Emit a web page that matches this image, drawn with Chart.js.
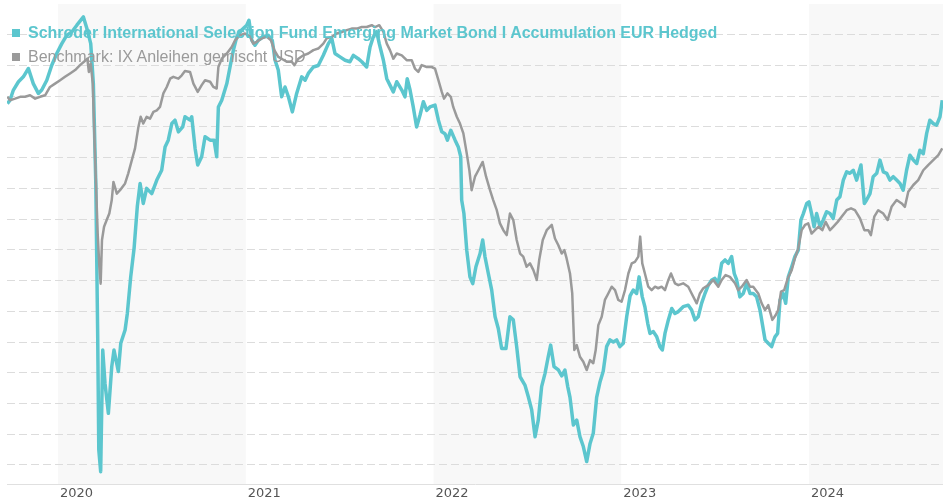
<!DOCTYPE html>
<html>
<head>
<meta charset="utf-8">
<script src="https://cdn.jsdelivr.net/npm/chart.js@4.4.1/dist/chart.umd.min.js"></script>
<style>
  html, body { margin: 0; padding: 0; background: #fff; }
  #wrap { position: relative; width: 943px; height: 503px; }
  #chart { position: absolute; left: 0; top: 0; }
  .box { position: absolute; width: 8px; height: 8px; }
  .txt { position: absolute; left: 28px; white-space: nowrap; font-family: "Liberation Sans", Arial, sans-serif; font-size: 16px; line-height: 18px; }
</style>
</head>
<body>
<div id="wrap">
  <canvas id="chart" width="943" height="503"></canvas>
  <div class="box" style="left:12px; top:29px; background:#5cc6ce;"></div>
  <div class="txt" id="fund-label" style="top:24px; color:#5cc6ce; font-weight:bold;"></div>
  <div class="box" style="left:12px; top:53px; background:#9a9a9a;"></div>
  <div class="txt" id="bench-label" style="top:48px; color:#9a9a9a;"></div>
</div>
<script>
// Series names
const fundName = 'Schroder International Selection Fund Emerging Market Bond I Accumulation EUR Hedged';
const benchName = 'Benchmark: IX Anleihen gemischt USD';

// Axis tick labels (year starts) and the years drawn with a grey band
const yearTicks = [2020, 2021, 2022, 2023, 2024];
const shadedYears = [2020, 2022, 2024];

// Fund: dates as decimal years
const fundYears = [
  2019.730, 2019.744, 2019.762, 2019.789, 2019.815, 2019.842, 2019.868, 2019.895, 2019.913, 2019.940,
  2019.966, 2019.993, 2020.020, 2020.046, 2020.073, 2020.100, 2020.135, 2020.156, 2020.174, 2020.188,
  2020.201, 2020.211, 2020.217, 2020.227, 2020.238, 2020.250, 2020.268, 2020.286, 2020.298, 2020.321,
  2020.334, 2020.357, 2020.369, 2020.387, 2020.405, 2020.422, 2020.437, 2020.454, 2020.472, 2020.499,
  2020.526, 2020.552, 2020.570, 2020.587, 2020.606, 2020.623, 2020.641, 2020.664, 2020.676, 2020.703,
  2020.712, 2020.730, 2020.744, 2020.765, 2020.783, 2020.810, 2020.831, 2020.845, 2020.854, 2020.872,
  2020.899, 2020.916, 2020.934, 2020.952, 2020.978, 2021.005, 2021.017, 2021.032, 2021.049, 2021.067,
  2021.093, 2021.120, 2021.141, 2021.156, 2021.173, 2021.191, 2021.209, 2021.227, 2021.248, 2021.271,
  2021.298, 2021.316, 2021.333, 2021.360, 2021.386, 2021.413, 2021.440, 2021.458, 2021.475, 2021.502,
  2021.529, 2021.555, 2021.573, 2021.599, 2021.618, 2021.644, 2021.662, 2021.679, 2021.697, 2021.711,
  2021.733, 2021.751, 2021.768, 2021.786, 2021.804, 2021.831, 2021.848, 2021.860, 2021.875, 2021.892,
  2021.910, 2021.928, 2021.946, 2021.964, 2021.981, 2022.008, 2022.026, 2022.044, 2022.061, 2022.074,
  2022.092, 2022.115, 2022.132, 2022.145, 2022.150, 2022.162, 2022.177, 2022.194, 2022.209, 2022.226,
  2022.248, 2022.262, 2022.274, 2022.292, 2022.310, 2022.328, 2022.345, 2022.363, 2022.386, 2022.407,
  2022.425, 2022.443, 2022.461, 2022.487, 2022.505, 2022.523, 2022.541, 2022.558, 2022.576, 2022.594,
  2022.611, 2022.624, 2022.642, 2022.665, 2022.683, 2022.700, 2022.715, 2022.727, 2022.745, 2022.763,
  2022.780, 2022.798, 2022.816, 2022.834, 2022.851, 2022.869, 2022.887, 2022.904, 2022.922, 2022.940,
  2022.958, 2022.976, 2022.993, 2023.011, 2023.029, 2023.047, 2023.064, 2023.082, 2023.095, 2023.112,
  2023.126, 2023.141, 2023.153, 2023.171, 2023.189, 2023.206, 2023.219, 2023.233, 2023.251, 2023.269,
  2023.286, 2023.304, 2023.330, 2023.357, 2023.375, 2023.393, 2023.410, 2023.428, 2023.446, 2023.464,
  2023.482, 2023.499, 2023.517, 2023.535, 2023.553, 2023.570, 2023.588, 2023.602, 2023.615, 2023.632,
  2023.650, 2023.668, 2023.686, 2023.703, 2023.721, 2023.739, 2023.748, 2023.766, 2023.783, 2023.801,
  2023.819, 2023.833, 2023.846, 2023.863, 2023.876, 2023.890, 2023.908, 2023.925, 2023.943, 2023.957,
  2023.970, 2023.988, 2024.000, 2024.014, 2024.027, 2024.041, 2024.059, 2024.076, 2024.094, 2024.112,
  2024.129, 2024.148, 2024.165, 2024.183, 2024.201, 2024.218, 2024.236, 2024.254, 2024.277, 2024.295,
  2024.307, 2024.325, 2024.342, 2024.361, 2024.378, 2024.396, 2024.414, 2024.431, 2024.449, 2024.467,
  2024.485, 2024.502, 2024.520, 2024.538, 2024.556, 2024.574, 2024.591, 2024.609, 2024.627, 2024.644,
  2024.662, 2024.680, 2024.698, 2024.710
];
const fundValues = [
  11.76, 11.87, 12.2, 12.47, 12.63, 12.9, 12.41, 12.09, 12.2, 12.52,
  13.0, 13.39, 13.71, 13.98, 14.09, 14.31, 14.58, 14.15, 13.71, 12.41,
  9.16, 4.28, 0.49, -0.22, 3.74, 2.66, 1.68, 3.2, 3.74, 3.04,
  3.96, 4.39, 4.93, 6.12, 7.05, 8.4, 9.16, 8.51, 9.0, 8.83,
  9.27, 9.59, 10.35, 10.57, 11.11, 11.22, 10.84, 11.0, 11.33, 11.22,
  11.33, 10.3, 9.76, 10.03, 10.68, 10.57, 10.57, 10.03, 11.65, 11.87,
  12.41, 12.95, 13.5, 13.93, 14.15, 14.31, 14.47, 13.82, 13.66, 13.82,
  13.93, 13.98, 13.82, 13.17, 12.85, 11.98, 12.3, 11.98, 11.49, 12.09,
  12.63, 12.52, 12.74, 12.95, 13.0, 13.33, 13.71, 13.88, 13.39, 13.28,
  13.17, 13.12, 13.33, 13.22, 13.12, 12.95, 13.6, 13.93, 14.1, 13.71,
  13.17, 12.57, 12.36, 12.14, 12.47, 12.2, 11.98, 12.57, 12.2, 11.65,
  11.0, 11.38, 11.82, 11.54, 11.65, 11.71, 11.22, 10.84, 10.78, 10.57,
  10.89, 10.57, 10.35, 10.03, 8.62, 8.18, 6.99, 6.12, 5.9, 6.45,
  6.88, 7.32, 6.78, 6.23, 5.69, 4.82, 4.44, 3.79, 3.79, 4.82,
  4.72, 3.85, 2.87, 2.6, 2.22, 1.79, 0.92, 1.46, 2.55, 2.98,
  3.52, 3.9, 3.2, 3.09, 2.9, 3.09, 2.55, 2.2, 1.3, 1.46,
  0.92, 0.6, 0.11, 0.7, 1.03, 2.2, 2.7, 3.05, 3.85, 4.07,
  4.0, 4.07, 3.85, 3.96, 4.82, 5.5, 5.69, 5.58, 6.12, 5.47,
  5.15, 4.61, 4.28, 4.34, 4.17, 3.85, 3.74, 4.28, 4.72, 5.09,
  4.93, 4.99, 5.15, 5.2, 5.04, 4.72, 4.82, 5.26, 5.58, 5.85,
  6.02, 6.07, 5.91, 6.56, 6.67, 6.56, 6.78, 6.23, 6.02, 5.47,
  5.58, 5.91, 5.58, 5.58, 5.47, 5.04, 4.72, 4.07, 3.96, 3.85,
  4.17, 4.28, 5.37, 5.58, 5.26, 6.12, 6.45, 6.78, 6.99, 7.97,
  8.18, 8.51, 8.56, 8.18, 7.75, 8.18, 7.75, 7.97, 8.24, 8.18,
  8.02, 8.62, 8.73, 9.27, 9.54, 9.49, 9.59, 9.27, 9.76, 8.51,
  8.62, 8.83, 9.38, 9.49, 9.92, 9.54, 9.49, 9.27, 9.38, 9.27,
  9.16, 8.94, 9.59, 10.08, 9.92, 9.81, 10.24, 10.13, 10.79, 11.22,
  11.11, 11.06, 11.33, 11.87
];

// Benchmark: dates as decimal years
const benchYears = [
  2019.730, 2019.744, 2019.771, 2019.798, 2019.824, 2019.851, 2019.878, 2019.904, 2019.931, 2019.957,
  2019.984, 2020.011, 2020.037, 2020.064, 2020.091, 2020.117, 2020.138, 2020.156, 2020.164, 2020.174,
  2020.185, 2020.193, 2020.202, 2020.211, 2020.220, 2020.227, 2020.234, 2020.245, 2020.259, 2020.273,
  2020.286, 2020.295, 2020.313, 2020.330, 2020.357, 2020.374, 2020.393, 2020.410, 2020.428, 2020.440,
  2020.454, 2020.472, 2020.490, 2020.508, 2020.526, 2020.543, 2020.561, 2020.579, 2020.597, 2020.614,
  2020.641, 2020.659, 2020.676, 2020.703, 2020.721, 2020.744, 2020.765, 2020.783, 2020.810, 2020.827,
  2020.845, 2020.854, 2020.872, 2020.899, 2020.925, 2020.943, 2020.969, 2020.996, 2021.023, 2021.040,
  2021.058, 2021.085, 2021.112, 2021.134, 2021.152, 2021.173, 2021.191, 2021.218, 2021.245, 2021.259,
  2021.280, 2021.307, 2021.333, 2021.360, 2021.386, 2021.413, 2021.431, 2021.458, 2021.484, 2021.511,
  2021.538, 2021.564, 2021.591, 2021.618, 2021.644, 2021.671, 2021.688, 2021.711, 2021.733, 2021.751,
  2021.768, 2021.786, 2021.804, 2021.831, 2021.857, 2021.884, 2021.901, 2021.919, 2021.937, 2021.964,
  2021.990, 2022.008, 2022.026, 2022.044, 2022.056, 2022.074, 2022.092, 2022.105, 2022.124, 2022.141,
  2022.159, 2022.177, 2022.191, 2022.203, 2022.221, 2022.239, 2022.262, 2022.280, 2022.301, 2022.318,
  2022.337, 2022.354, 2022.372, 2022.390, 2022.407, 2022.425, 2022.443, 2022.461, 2022.478, 2022.496,
  2022.514, 2022.532, 2022.550, 2022.563, 2022.582, 2022.603, 2022.630, 2022.647, 2022.665, 2022.683,
  2022.697, 2022.709, 2022.727, 2022.739, 2022.750, 2022.763, 2022.780, 2022.798, 2022.816, 2022.834,
  2022.851, 2022.864, 2022.878, 2022.896, 2022.913, 2022.931, 2022.949, 2022.967, 2022.984, 2023.002,
  2023.020, 2023.038, 2023.056, 2023.073, 2023.091, 2023.101, 2023.112, 2023.126, 2023.144, 2023.162,
  2023.180, 2023.197, 2023.215, 2023.233, 2023.251, 2023.265, 2023.286, 2023.304, 2023.330, 2023.357,
  2023.375, 2023.402, 2023.419, 2023.437, 2023.464, 2023.490, 2023.517, 2023.535, 2023.556, 2023.579,
  2023.606, 2023.623, 2023.642, 2023.668, 2023.686, 2023.703, 2023.730, 2023.748, 2023.766, 2023.783,
  2023.805, 2023.823, 2023.836, 2023.851, 2023.868, 2023.887, 2023.908, 2023.925, 2023.943, 2023.961,
  2023.979, 2023.996, 2024.014, 2024.032, 2024.050, 2024.071, 2024.089, 2024.112, 2024.129, 2024.153,
  2024.174, 2024.201, 2024.224, 2024.245, 2024.272, 2024.295, 2024.316, 2024.330, 2024.348, 2024.369,
  2024.396, 2024.419, 2024.440, 2024.467, 2024.494, 2024.511, 2024.529, 2024.556, 2024.582, 2024.609,
  2024.635, 2024.662, 2024.689, 2024.710
];
const benchValues = [
  11.98, 11.87, 11.92, 11.98, 11.98, 12.03, 11.92, 11.98, 12.03, 12.3,
  12.41, 12.52, 12.63, 12.74, 12.85, 13.01, 13.12, 13.22, 12.79, 13.06,
  12.41, 10.79, 9.16, 7.54, 6.45, 5.9, 7.32, 7.75, 7.97, 8.18,
  8.62, 9.21, 8.83, 8.94, 9.16, 9.49, 9.92, 10.3, 11.0, 11.33,
  11.11, 11.33, 11.27, 11.49, 11.54, 11.65, 12.09, 12.3, 12.57, 12.63,
  12.57, 12.68, 12.82, 12.79, 12.41, 12.14, 12.36, 12.52, 12.47, 12.3,
  12.25, 12.95, 13.22, 13.39, 13.6, 13.82, 13.98, 14.04, 13.93, 13.71,
  13.77, 13.88, 13.93, 13.82, 13.5, 13.28, 13.22, 13.12, 13.12, 13.01,
  13.22, 13.33, 13.39, 13.5, 13.55, 13.71, 13.88, 13.93, 14.04, 14.09,
  14.15, 14.2, 14.2, 14.25, 14.25, 14.31, 14.25, 14.31, 14.09, 13.71,
  13.5, 13.22, 13.39, 13.33, 13.17, 13.17, 12.9, 12.79, 13.01, 12.95,
  12.95, 12.9, 12.52, 12.14, 11.92, 12.09, 11.98, 11.65, 11.33, 11.11,
  10.79, 10.14, 9.59, 8.94, 9.38, 9.59, 9.86, 9.38, 8.94, 8.62,
  8.29, 7.86, 7.64, 7.48, 8.18, 7.97, 7.32, 6.88, 6.78, 6.45,
  6.56, 6.34, 6.02, 6.67, 7.32, 7.64, 7.81, 7.37, 7.15, 6.88,
  6.99, 6.72, 6.23, 5.58, 3.74, 3.9, 3.52, 3.36, 3.09, 3.41,
  3.31, 3.74, 4.55, 4.82, 5.37, 5.58, 5.8, 5.69, 5.37, 5.31,
  5.69, 6.23, 6.56, 6.61, 6.78, 7.43, 6.56, 6.23, 5.8, 5.69,
  5.8, 5.75, 5.8, 5.69, 6.02, 6.23, 5.91, 5.85, 5.91, 5.8,
  5.58, 5.26, 5.58, 5.75, 5.85, 6.02, 5.8, 6.02, 6.18, 6.12,
  5.91, 5.69, 5.8, 6.02, 5.8, 5.8, 5.58, 5.26, 5.04, 5.2,
  4.72, 4.88, 5.04, 5.64, 5.69, 6.07, 6.34, 6.72, 7.05, 7.64,
  7.81, 7.86, 7.53, 7.64, 7.75, 7.64, 7.91, 7.64, 7.75, 7.91,
  8.08, 8.29, 8.35, 8.29, 8.02, 7.64, 7.64, 7.48, 8.08, 8.29,
  8.18, 7.97, 8.4, 8.62, 8.51, 8.4, 8.89, 9.11, 9.27, 9.59,
  9.76, 9.92, 10.08, 10.3
];

// Value axis: dashed grid lines at these values (no labels shown)
const gridValues = [0, 1, 2, 3, 4, 5, 6, 7, 8, 9, 10, 11, 12, 13, 14];

document.getElementById('fund-label').textContent = fundName;
document.getElementById('bench-label').textContent = benchName;

// Alternating grey year bands behind the grid
const yearBands = {
    id: 'yearBands',
    beforeDraw(chart) {
        const { ctx, chartArea: a, scales: { x } } = chart;
        ctx.save();
        ctx.fillStyle = '#f8f8f8';
        shadedYears.forEach(yr => {
            const l = Math.max(a.left, x.getPixelForValue(yr));
            const r = Math.min(a.right, x.getPixelForValue(yr + 1));
            if (r > l) ctx.fillRect(l, a.top, r - l, a.bottom - a.top);
        });
        ctx.restore();
    }
};

const toPoints = (xs, ys) => xs.map((x, i) => ({ x: x, y: ys[i] }));

new Chart(document.getElementById('chart').getContext('2d'), {
    type: 'line',
    data: {
        datasets: [{
            label: fundName,
            data: toPoints(fundYears, fundValues),
            borderColor: '#5cc6ce',
            borderWidth: 3.5,
            pointRadius: 0,
            tension: 0,
            borderJoinStyle: 'round',
            order: 1
        }, {
            label: benchName,
            data: toPoints(benchYears, benchValues),
            borderColor: '#9a9a9a',
            borderWidth: 2.5,
            pointRadius: 0,
            tension: 0,
            borderJoinStyle: 'round',
            order: 0
        }]
    },
    options: {
        responsive: false,
        animation: false,
        devicePixelRatio: 1,
        layout: { padding: { left: 7, top: 4, right: 0, bottom: 0 } },
        plugins: {
            legend: { display: false },
            tooltip: { enabled: false }
        },
        scales: {
            x: {
                type: 'linear',
                min: 2019.728,
                max: 2024.714,
                afterBuildTicks: s => { s.ticks = yearTicks.map(v => ({ value: v })); },
                afterFit: s => { s.height = 19; },
                grid: { display: false, drawTicks: false },
                border: { display: true, color: '#e0e0e0', width: 1 },
                ticks: {
                    align: 'start',
                    labelOffset: 2,
                    padding: 2,
                    autoSkip: false,
                    maxRotation: 0,
                    color: '#555',
                    font: { family: 'DejaVu Sans', size: 13 },
                    callback: v => String(v)
                }
            },
            y: {
                min: -0.62,
                max: 15,
                afterBuildTicks: s => { s.ticks = gridValues.map(v => ({ value: v })); },
                afterFit: s => { s.width = 0; },
                ticks: { display: false },
                grid: { color: '#dcdcdc', lineWidth: 1, drawTicks: false },
                border: { display: false, dash: [8, 4] }
            }
        }
    },
    plugins: [yearBands]
});
</script>
</body>
</html>
